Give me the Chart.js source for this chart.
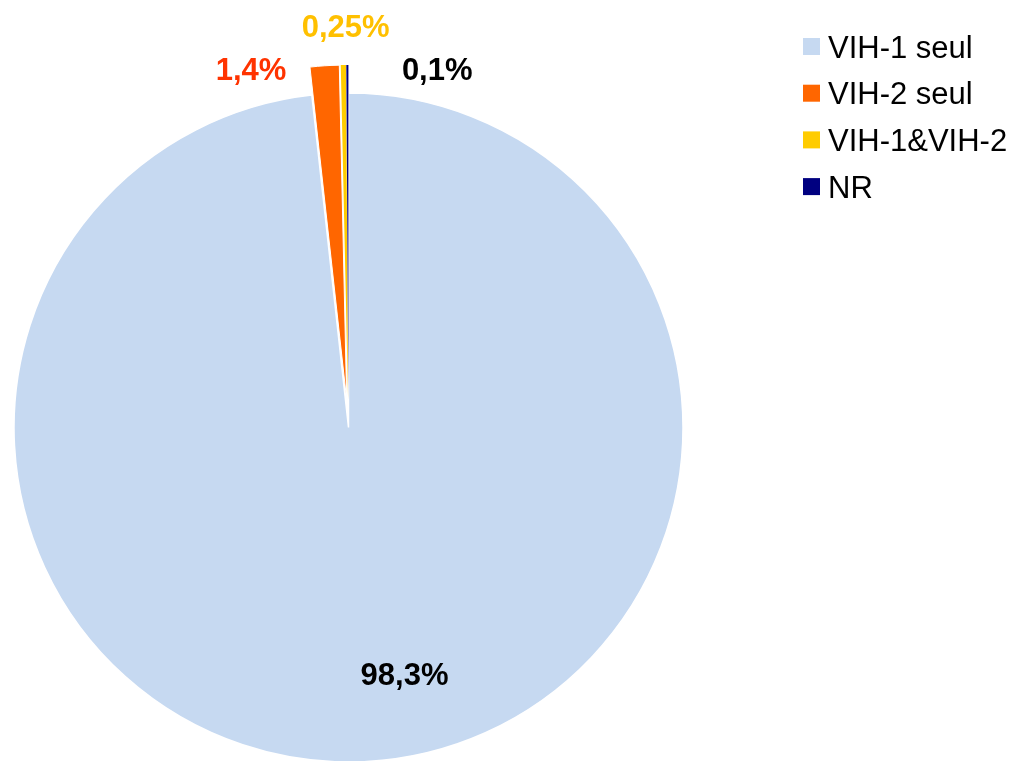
<!DOCTYPE html>
<html>
<head>
<meta charset="utf-8">
<script src="https://cdn.jsdelivr.net/npm/chart.js@4.4.0/dist/chart.umd.min.js"></script>
<style>
  html, body { margin: 0; padding: 0; background: #ffffff; }
  #wrap { width: 1016px; height: 761px; position: relative; }
</style>
</head>
<body>
<div id="wrap"><canvas id="pieChart"></canvas></div>
<script>
// Données du graphique
var categories = ['VIH-1 seul', 'VIH-2 seul', 'VIH-1&VIH-2', 'NR'];
var values = [98.3, 1.4, 0.25, 0.1];
var valueLabels = ['98,3%', '1,4%', '0,25%', '0,1%'];
var sliceColors = ['#C6D9F1', '#FF6600', '#FFCC00', '#000080'];
var labelColors = ['#000000', '#FF3300', '#FFC000', '#000000'];

// Décalage (éclatement) des parts, en pixels
var explode = [0, 28, 28, 28];

// Position des étiquettes (angle depuis le haut en degrés, rayon relatif)
var labelPlacement = [
    { angle: 167.2, r: 0.756 },
    { angle: 344.8, r: 1.112 },
    { angle: 359.6, r: 1.200 },
    { angle: 13.9, r: 1.104 }
];

var FONT = '"Liberation Sans", Arial, sans-serif';

// Éclatement des petites parts : simple translation, comme dans Excel
// (l'option "offset" de Chart.js rétrécit les parts très fines)
var explodePlugin = {
    id: 'explodeSlices',
    afterDatasetsUpdate: function (chart) {
        var arcs = chart.getDatasetMeta(0).data;
        arcs.forEach(function (arc, i) {
            if (!explode[i]) return;
            var mid = (arc.startAngle + arc.endAngle) / 2;
            arc.x += Math.cos(mid) * explode[i];
            arc.y += Math.sin(mid) * explode[i];
        });
    }
};

// Étiquettes de pourcentage
var valueLabelPlugin = {
    id: 'valueLabels',
    afterDatasetsDraw: function (chart) {
        var ctx = chart.ctx;
        var arcs = chart.getDatasetMeta(0).data;
        var cx = (chart.chartArea.left + chart.chartArea.right) / 2;
        var cy = (chart.chartArea.top + chart.chartArea.bottom) / 2;
        ctx.save();
        ctx.font = 'bold 31px ' + FONT;
        ctx.textAlign = 'center';
        ctx.textBaseline = 'alphabetic';
        arcs.forEach(function (arc, i) {
            var p = labelPlacement[i];
            var a = (p.angle - 90) * Math.PI / 180;
            var x = cx + Math.cos(a) * arc.outerRadius * p.r;
            var y = cy + Math.sin(a) * arc.outerRadius * p.r;
            ctx.fillStyle = labelColors[i];
            ctx.fillText(valueLabels[i], x, y + 11);
        });
        ctx.restore();
    }
};

// Légende à droite
var legendPlugin = {
    id: 'sideLegend',
    afterDraw: function (chart) {
        var ctx = chart.ctx;
        var colors = chart.data.datasets[0].backgroundColor;
        ctx.save();
        ctx.font = '31px ' + FONT;
        ctx.textAlign = 'left';
        ctx.textBaseline = 'alphabetic';
        chart.data.labels.forEach(function (label, i) {
            var cy = 46.5 + i * 46.7;
            ctx.fillStyle = colors[i];
            ctx.fillRect(803, cy - 8.5, 17, 17);
            ctx.fillStyle = '#000000';
            ctx.fillText(label, 828, cy + 11);
        });
        ctx.restore();
    }
};

var ctx = document.getElementById('pieChart').getContext('2d');
var pieChart = new Chart(ctx, {
    type: 'pie',
    data: {
        labels: categories,
        datasets: [{
            data: values,
            backgroundColor: sliceColors,
            borderColor: '#ffffff',
            borderWidth: [1.5, 1, 0, 0]
        }]
    },
    options: {
        responsive: true,
        maintainAspectRatio: false,
        animation: false,
        radius: 334.5,
        layout: {
            padding: { left: 0, right: 319, top: 94, bottom: 0 }
        },
        plugins: {
            legend: { display: false },
            tooltip: { enabled: false }
        }
    },
    plugins: [explodePlugin, valueLabelPlugin, legendPlugin]
});
</script>
</body>
</html>
